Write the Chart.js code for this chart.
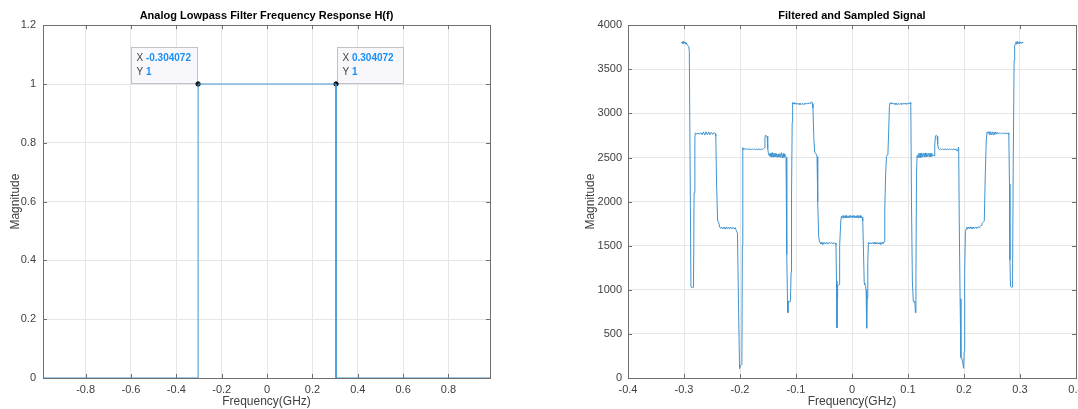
<!DOCTYPE html>
<html lang="en">
<head>
<meta charset="UTF-8">
<title>Lowpass Filter and Sampled Signal</title>
<style>
  body { margin: 0; padding: 0; background: #fff; overflow: hidden; width: 1078px; height: 409px; position: relative; }
  #filterChart { position: absolute; left: 0; top: 0; }
  #signalChart { position: absolute; left: 540px; top: 0; }
</style>
<script src="https://cdn.jsdelivr.net/npm/chart.js"></script>
</head>
<body>
<canvas id="filterChart" width="540" height="409"></canvas>
<canvas id="signalChart" width="560" height="409"></canvas>
<script>
// ---- left: ideal lowpass H(f) ----
var filterFreq = [-0.988, -0.304072, -0.304072, 0.304072, 0.304072, 0.983];
var filterMag  = [0, 0, 1, 1, 0, 0];
var tipX = [-0.304072, 0.304072];
var tipY = [1, 1];

// ---- right: filtered and sampled signal ----
var sigFreq = [
  -0.3048, -0.3030, -0.3018, -0.3006, -0.2994, -0.2982, -0.2970, -0.2958, -0.2940, -0.2915, -0.2905, -0.2876, -0.2865, -0.2850, -0.2836, -0.2830, -0.2820, -0.2806,
  -0.2798, -0.2774, -0.2750, -0.2726, -0.2702, -0.2678, -0.2654, -0.2630, -0.2606, -0.2582, -0.2558, -0.2534, -0.2510, -0.2486, -0.2462, -0.2440, -0.2432, -0.2418,
  -0.2400, -0.2380, -0.2362, -0.2345, -0.2325, -0.2305, -0.2285, -0.2265, -0.2245, -0.2225, -0.2205, -0.2185, -0.2165, -0.2145, -0.2125, -0.2105, -0.2085, -0.2065, -0.2045,
  -0.2028, -0.2008, -0.1990, -0.1975, -0.1966, -0.1958,
  -0.1950, -0.1942, -0.1930, -0.1915, -0.1900, -0.1880, -0.1860, -0.1840, -0.1820, -0.1800, -0.1780, -0.1760, -0.1740, -0.1720, -0.1700, -0.1680, -0.1660, -0.1640, -0.1620, -0.1600, -0.1580, -0.1568,
  -0.1555, -0.1545, -0.1530, -0.1515, -0.1505, -0.1492,
  -0.1480, -0.1468, -0.1456, -0.1444, -0.1432, -0.1420, -0.1408, -0.1396, -0.1384, -0.1372, -0.1360, -0.1348, -0.1336, -0.1320, -0.1305, -0.1290, -0.1275, -0.1260, -0.1245, -0.1230, -0.1215, -0.1200, -0.1188, -0.1178,
  -0.1165, -0.1152, -0.1145, -0.1138, -0.1125, -0.1110, -0.1098, -0.1088, -0.1080, -0.1068,
  -0.1060, -0.1048, -0.1035, -0.1020, -0.1005, -0.0990, -0.0975, -0.0960, -0.0945, -0.0930, -0.0915, -0.0900, -0.0885, -0.0870, -0.0855, -0.0840, -0.0825, -0.0810, -0.0795, -0.0780, -0.0765, -0.0750, -0.0735, -0.0718, -0.0705, -0.0698,
  -0.0680, -0.0665, -0.0650, -0.0635, -0.0625, -0.0612, -0.0595,
  -0.0583, -0.0570, -0.0558, -0.0545, -0.0532, -0.0518, -0.0505, -0.0490, -0.0475, -0.0460, -0.0445, -0.0430, -0.0415, -0.0400, -0.0385, -0.0370, -0.0355, -0.0340, -0.0325, -0.0310, -0.0295, -0.0286,
  -0.0277, -0.0268, -0.0261, -0.0256, -0.0245, -0.0232, -0.0226, -0.0215, -0.0200,
  -0.0190, -0.0180, -0.0168, -0.0156, -0.0144, -0.0132, -0.0120, -0.0108, -0.0096, -0.0084, -0.0072, -0.0060, -0.0048, -0.0036, -0.0024, -0.0012, 0.0000, 0.0012, 0.0024, 0.0036, 0.0048, 0.0060, 0.0072, 0.0084, 0.0096, 0.0108, 0.0120, 0.0132, 0.0144, 0.0156, 0.0168, 0.0180,
  0.0192, 0.0205, 0.0218, 0.0228, 0.0240, 0.0252, 0.0262, 0.0270, 0.0282,
  0.0292, 0.0305, 0.0320, 0.0335, 0.0350, 0.0365, 0.0380, 0.0395, 0.0410, 0.0425, 0.0440, 0.0455, 0.0470, 0.0485, 0.0500, 0.0515, 0.0530, 0.0545, 0.0558, 0.0572,
  0.0585, 0.0600, 0.0615, 0.0628, 0.0642, 0.0655, 0.0668,
  0.0680, 0.0695, 0.0710, 0.0725, 0.0740, 0.0755, 0.0770, 0.0785, 0.0800, 0.0815, 0.0830, 0.0845, 0.0860, 0.0875, 0.0890, 0.0905, 0.0920, 0.0935, 0.0950, 0.0965, 0.0980, 0.0995, 0.1010, 0.1025, 0.1040, 0.1050,
  0.1062, 0.1078, 0.1095, 0.1110, 0.1122, 0.1132, 0.1142, 0.1152,
  0.1162, 0.1175, 0.1188, 0.1200, 0.1215, 0.1230, 0.1245, 0.1260, 0.1275, 0.1290, 0.1305, 0.1320, 0.1335, 0.1350, 0.1365, 0.1380, 0.1395, 0.1410, 0.1425, 0.1440, 0.1455, 0.1465,
  0.1478, 0.1490, 0.1505, 0.1520, 0.1530, 0.1545,
  0.1560, 0.1580, 0.1600, 0.1620, 0.1640, 0.1660, 0.1680, 0.1700, 0.1720, 0.1740, 0.1760, 0.1780, 0.1800, 0.1820, 0.1840, 0.1860, 0.1875, 0.1890, 0.1905,
  0.1915, 0.1930, 0.1945, 0.1960, 0.1975, 0.1994, 0.2003, 0.2012, 0.2025,
  0.2036, 0.2050, 0.2065, 0.2080, 0.2095, 0.2110, 0.2125, 0.2140, 0.2155, 0.2170, 0.2185, 0.2200, 0.2215, 0.2230, 0.2245, 0.2260, 0.2275, 0.2290, 0.2305, 0.2320, 0.2335, 0.2350, 0.2362,
  0.2380, 0.2398, 0.2412, 0.2430, 0.2445, 0.2460, 0.2475, 0.2490, 0.2505, 0.2520, 0.2535, 0.2550, 0.2565, 0.2580, 0.2595, 0.2610, 0.2630, 0.2650, 0.2670, 0.2690, 0.2710, 0.2730, 0.2750, 0.2770, 0.2790, 0.2800,
  0.2812, 0.2820, 0.2830, 0.2845, 0.2860, 0.2868, 0.2880, 0.2895, 0.2905, 0.2918, 0.2930, 0.2942, 0.2955, 0.2968, 0.2980, 0.2995, 0.3010, 0.3025, 0.3040, 0.3048
];
var sigMag = [
  3796, 3812, 3790, 3818, 3797, 3808, 3785, 3795, 3772, 3760, 3700, 1040, 1025, 1030, 1028, 1045, 2100, 2720,
  2778, 2766, 2776, 2764, 2782, 2758, 2790, 2754, 2792, 2756, 2790, 2758, 2786, 2762, 2784, 2770, 2740, 2200,
  1790, 1760, 1712, 1695, 1710, 1690, 1712, 1688, 1714, 1690, 1712, 1688, 1710, 1692, 1708, 1690, 1705, 1670, 1640,
  900, 105, 140, 150, 226, 1500,
  2612, 2590, 2605, 2592, 2600, 2590, 2598, 2590, 2598, 2588, 2597, 2590, 2596, 2588, 2595, 2590, 2598, 2588, 2596, 2590, 2600, 2610,
  2720, 2752, 2745, 2740, 2600, 2545,
  2520, 2548, 2510, 2552, 2505, 2555, 2505, 2550, 2508, 2545, 2510, 2542, 2500, 2540, 2505, 2545, 2500, 2555, 2495, 2545, 2500, 2540, 2520, 2500,
  1400, 880, 740, 860, 866, 862, 875, 1200, 2060, 2900,
  3125, 3108, 3120, 3105, 3118, 3103, 3115, 3102, 3114, 3100, 3112, 3102, 3114, 3100, 3112, 3104, 3115, 3105, 3118, 3108, 3122, 3110, 3120, 3132, 3112, 3060,
  2700, 2555, 2548, 2530, 2510, 2000, 1600,
  1555, 1535, 1520, 1540, 1515, 1538, 1518, 1535, 1520, 1536, 1522, 1535, 1524, 1538, 1525, 1535, 1526, 1534, 1525, 1532, 1530, 1510,
  1100, 570, 900, 1055, 1050, 1060, 1080, 1500, 1780,
  1830, 1818, 1840, 1815, 1842, 1818, 1840, 1815, 1842, 1820, 1838, 1818, 1840, 1820, 1842, 1822, 1838, 1820, 1842, 1818, 1840, 1818, 1838, 1818, 1842, 1816, 1840, 1818, 1842, 1815, 1835, 1822,
  1780, 1450, 1080, 1055, 1050, 1000, 565, 900, 1300,
  1540, 1530, 1522, 1535, 1524, 1536, 1522, 1538, 1520, 1536, 1518, 1538, 1520, 1535, 1515, 1538, 1518, 1540, 1522, 1545,
  1900, 2300, 2510, 2530, 2550, 2800, 3080,
  3120, 3110, 3122, 3105, 3118, 3103, 3115, 3100, 3112, 3100, 3114, 3100, 3112, 3104, 3116, 3102, 3115, 3106, 3118, 3104, 3115, 3108, 3120, 3108, 3122, 3110,
  2000, 1100, 866, 860, 870, 740, 1200, 2300,
  2520, 2500, 2545, 2498, 2550, 2500, 2552, 2505, 2548, 2505, 2552, 2508, 2550, 2510, 2548, 2505, 2550, 2510, 2545, 2515, 2530, 2520,
  2650, 2745, 2752, 2740, 2650, 2600,
  2590, 2598, 2588, 2596, 2590, 2598, 2588, 2596, 2590, 2597, 2588, 2596, 2590, 2598, 2586, 2595, 2575, 2590, 2615,
  1800, 900, 230, 226, 180, 110, 300, 1200, 1660,
  1685, 1710, 1690, 1712, 1692, 1715, 1695, 1712, 1690, 1712, 1695, 1710, 1698, 1712, 1700, 1715, 1705, 1720, 1730, 1748, 1760, 1770, 1780,
  2300, 2700, 2790, 2775, 2795, 2758, 2792, 2755, 2790, 2758, 2788, 2760, 2790, 2765, 2785, 2768, 2780, 2770, 2778, 2770, 2778, 2772, 2776, 2772, 2778, 2760,
  2200, 1340, 1040, 1030, 1030, 1200, 2500, 3600, 3770, 3790, 3810, 3785, 3818, 3795, 3812, 3790, 3812, 3792, 3808, 3800
];

Chart.defaults.font.family = "'Liberation Sans', Arial, sans-serif";
Chart.defaults.color = '#404040';
Chart.defaults.animation = false;

var lineBlue = '#3f93d0';
var gridGray = '#e6e6e6';

function toPoints(xs, ys) {
  var pts = [];
  for (var i = 0; i < Math.min(xs.length, ys.length); i++) pts.push({ x: xs[i], y: ys[i] });
  return pts;
}

// box round the plot with inward tick marks, like the matlab axes
var framePlugin = {
  id: 'frame',
  beforeDatasetsDraw: function (chart) {
    var ctx = chart.ctx, a = chart.chartArea;
    var xs = chart.scales.x, ys = chart.scales.y;
    ctx.save();
    ctx.strokeStyle = '#6f6f6f';
    ctx.lineWidth = 1;
    ctx.strokeRect(Math.round(a.left) + 0.5, Math.round(a.top) + 0.5, Math.round(a.right - a.left), Math.round(a.bottom - a.top));
    ctx.beginPath();
    xs.ticks.forEach(function (t) {
      var px = Math.round(xs.getPixelForValue(t.value)) + 0.5;
      ctx.moveTo(px, a.bottom); ctx.lineTo(px, a.bottom - 4);
      ctx.moveTo(px, a.top); ctx.lineTo(px, a.top + 4);
    });
    ys.ticks.forEach(function (t) {
      var py = Math.round(ys.getPixelForValue(t.value)) + 0.5;
      ctx.moveTo(a.left, py); ctx.lineTo(a.left + 4, py);
      ctx.moveTo(a.right, py); ctx.lineTo(a.right - 4, py);
    });
    ctx.stroke();
    ctx.restore();
  }
};

// matlab-style data tips on the left plot
var dataTipPlugin = {
  id: 'dataTips',
  beforeDatasetsDraw: function (chart) {
    if (chart.canvas.id !== 'filterChart') return;
    var ctx = chart.ctx, xs = chart.scales.x, ys = chart.scales.y;
    tipX.forEach(function (xv, i) {
      var px = xs.getPixelForValue(xv), py = ys.getPixelForValue(tipY[i]);
      var w = 66, h = 36;
      var bx = Math.round(xv < 0 ? px - w - 1 : px + 1) + 0.5;
      var by = Math.round(py - h - 1) + 0.5;
      ctx.save();
      ctx.fillStyle = '#f8f8fc';
      ctx.strokeStyle = '#c2c2c8';
      ctx.lineWidth = 1;
      ctx.fillRect(bx, by, w, h);
      ctx.strokeRect(bx, by, w, h);
      ctx.textBaseline = 'middle';
      ctx.textAlign = 'left';
      var rows = [['X', String(xv)], ['Y', String(tipY[i])]];
      rows.forEach(function (r, k) {
        var ty = by + 11 + k * 13.5;
        ctx.font = "10px 'Liberation Sans', Arial, sans-serif";
        ctx.fillStyle = '#404040';
        ctx.fillText(r[0], bx + 5, ty);
        var lw = ctx.measureText(r[0] + ' ').width;
        ctx.font = "bold 10px 'Liberation Sans', Arial, sans-serif";
        ctx.fillStyle = '#1a8ff5';
        ctx.fillText(r[1], bx + 5 + lw, ty);
      });
      ctx.restore();
    });
  }
};

function axisOpts(o) {
  return {
    type: 'linear',
    min: o.min, max: o.max,
    border: { display: false },
    grid: { color: gridGray, drawTicks: false, lineWidth: 1 },
    ticks: {
      stepSize: o.step, includeBounds: false, padding: o.pad,
      color: '#404040', font: { size: 11 },
      callback: function (v) { return String(Number(v.toFixed(3))); }
    },
    title: { display: true, text: o.title, color: '#404040', font: { size: 12 }, padding: o.titlePad },
    afterFit: o.fit
  };
}

function makeChart(id, datasets, titleText, xo, yo, rightPad) {
  return new Chart(document.getElementById(id), {
    type: 'line',
    data: { datasets: datasets },
    options: {
      responsive: false,
      layout: { padding: { left: 0, right: rightPad, top: 0, bottom: 0 } },
      plugins: {
        legend: { display: false },
        tooltip: { enabled: false },
        title: {
          display: true, text: titleText, fullSize: false,
          color: '#000', font: { size: 11, weight: 'bold' },
          padding: { top: 9, bottom: 3 }
        }
      },
      scales: { x: axisOpts(xo), y: axisOpts(yo) }
    },
    plugins: [framePlugin, dataTipPlugin]
  });
}

makeChart('filterChart', [
  {
    data: toPoints(filterFreq, filterMag),
    borderColor: lineBlue, borderWidth: 1, pointRadius: 0, tension: 0
  },
  {
    data: toPoints(tipX, tipY),
    showLine: false, pointRadius: 2.2, pointBackgroundColor: '#111', pointBorderColor: '#111'
  }
], 'Analog Lowpass Filter Frequency Response H(f)',
  { min: -0.988, max: 0.983, step: 0.2, pad: 5, title: 'Frequency(GHz)', titlePad: { top: 0, bottom: 0 },
    fit: function (s) { s.height = 31; } },
  { min: 0, max: 1.2, step: 0.2, pad: 7, title: 'Magnitude', titlePad: { top: 8, bottom: 0 },
    fit: function (s) { s.width = 43; } },
  50);

makeChart('signalChart', [
  {
    data: toPoints(sigFreq, sigMag),
    borderColor: lineBlue, borderWidth: 1, pointRadius: 0, tension: 0
  }
], 'Filtered and Sampled Signal',
  { min: -0.4, max: 0.4, step: 0.1, pad: 5, title: 'Frequency(GHz)', titlePad: { top: 0, bottom: 0 },
    fit: function (s) { s.height = 31; } },
  { min: 0, max: 4000, step: 500, pad: 6, title: 'Magnitude', titlePad: { top: 43, bottom: 0 },
    fit: function (s) { s.width = 88; } },
  24);
</script>
</body>
</html>
